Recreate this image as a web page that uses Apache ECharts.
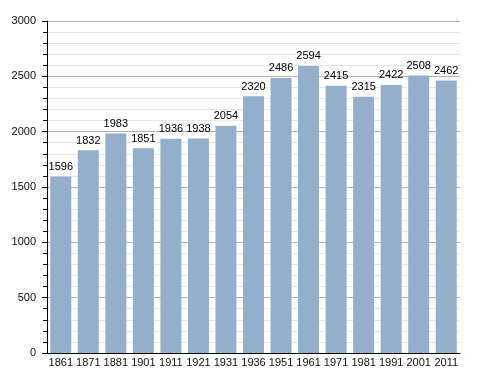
<!DOCTYPE html>
<html><head><meta charset="utf-8">
<script src="https://cdn.jsdelivr.net/npm/echarts@6/dist/echarts.min.js"></script>
<style>html,body{margin:0;padding:0;background:#fff}#c{width:488px;height:373px}</style>
</head><body><div id="c"></div>
<script>
const years = ['1861','1871','1881','1901','1911','1921','1931','1936','1951','1961','1971','1981','1991','2001','2011'];
const population = [1596,1832,1983,1851,1936,1938,2054,2320,2486,2594,2415,2315,2422,2508,2462];
const yMin = 0, yMax = 3000, yStep = 500;

const chart = echarts.init(document.getElementById('c'), null, {renderer:'canvas'});
chart.setOption({
  animation:false,
  backgroundColor:'#fff',
  grid:{left:47,right:28,top:21,bottom:20,containLabel:false},
  xAxis:{
    type:'category', data:years, boundaryGap:true,
    axisLine:{lineStyle:{color:'#000',width:1}},
    axisTick:{show:false},
    axisLabel:{color:'#111',fontFamily:'Liberation Sans, Arial, sans-serif',fontSize:11,margin:4,interval:0}
  },
  yAxis:{
    type:'value', min:yMin, max:yMax, interval:yStep,
    axisLine:{show:true,lineStyle:{color:'#000',width:1}},
    axisTick:{show:true,length:5,lineStyle:{color:'#000'}},
    minorTick:{show:true,splitNumber:5,length:4,lineStyle:{color:'#000'}},
    splitLine:{show:true,lineStyle:{color:'#b4b4b4',width:1}},
    minorSplitLine:{show:true,lineStyle:{color:'#e6e6e6',width:1}},
    axisLabel:{color:'#111',fontFamily:'Liberation Sans, Arial, sans-serif',fontSize:11,margin:11,formatter:function(v){return String(v);}}
  },
  series:[{
    type:'bar', data:population, barWidth:21,
    itemStyle:{color:'#94afcb'},
    label:{show:true,position:'top',distance:4,color:'#000',fontFamily:'Liberation Sans, Arial, sans-serif',fontSize:11}
  }]
});
</script></body></html>
